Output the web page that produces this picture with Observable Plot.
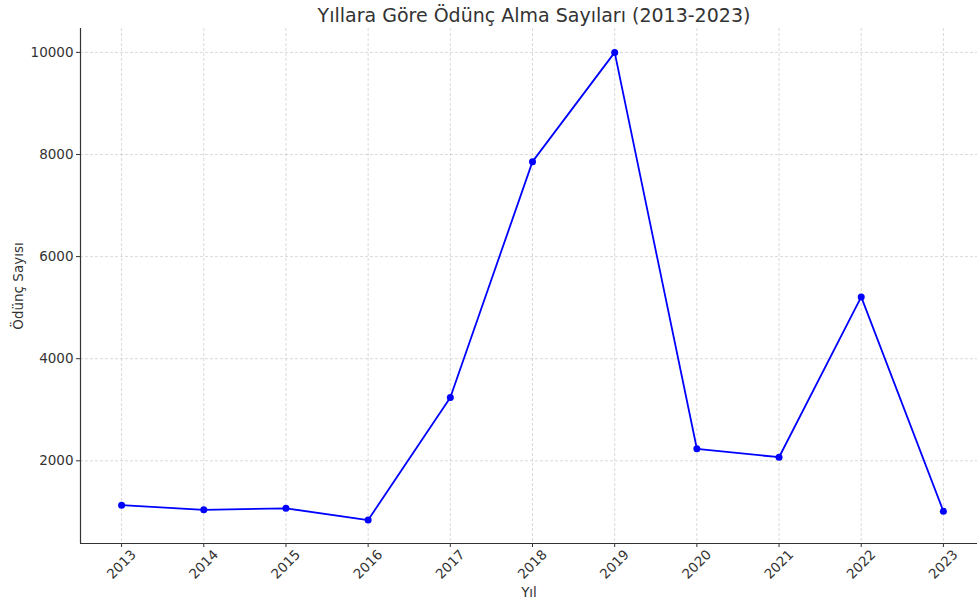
<!DOCTYPE html>
<html>
<head>
<meta charset="utf-8">
<script src="https://cdn.jsdelivr.net/npm/d3@7"></script>
<script src="https://cdn.jsdelivr.net/npm/@observablehq/plot@0.6"></script>
<style>
  body { margin: 0; background: #fff; }
  svg { font-family: "DejaVu Sans", sans-serif; }
</style>
</head>
<body>
<div id="chart"></div>
<script>
const years = [2013, 2014, 2015, 2016, 2017, 2018, 2019, 2020, 2021, 2022, 2023];
const counts = [1130, 1040, 1070, 840, 3240, 7860, 10000, 2235, 2070, 5210, 1010];
const yTicks = [2000, 4000, 6000, 8000, 10000];
const title = "Yıllara Göre Ödünç Alma Sayıları (2013-2023)";
const xLabel = "Yıl";
const yLabel = "Ödünç Sayısı";

const data = years.map((y, i) => ({year: y, count: counts[i]}));

const chart = Plot.plot({
  width: 977,
  height: 606,
  marginLeft: 80,
  marginRight: 0,
  marginTop: 28,
  marginBottom: 63,
  style: {fontFamily: "DejaVu Sans, sans-serif", fontSize: "13px", color: "#333", background: "#fff"},
  x: {type: "linear", domain: [2012.5, 2023.5], range: [80, 984]},
  y: {domain: [380, 10468]},
  marks: [
    Plot.gridX(years, {stroke: "#b0b0b0", strokeOpacity: 0.6, strokeWidth: 0.8, strokeDasharray: "3,2"}),
    Plot.gridY(yTicks, {stroke: "#b0b0b0", strokeOpacity: 0.6, strokeWidth: 0.8, strokeDasharray: "3,2"}),
    Plot.axisY(yTicks, {tickSize: 4, tickPadding: 3, tickFormat: d => String(d), label: null, fontSize: 13.5, color: "#333", stroke: "#333"}),
    Plot.axisX(years, {tickSize: 4, tickFormat: () => "", label: null, stroke: "#333"}),
    Plot.text(years, {x: d => d, text: d => String(d), frameAnchor: "bottom", dy: 21, rotate: -45, textAnchor: "middle", lineAnchor: "middle", fontSize: 13.5, fill: "#333"}),
    Plot.ruleX([2012.5], {stroke: "#333", strokeWidth: 1.2}),
    Plot.ruleY([380], {stroke: "#333", strokeWidth: 1.2}),
    Plot.line(data, {x: "year", y: "count", stroke: "#0000ff", strokeWidth: 1.8}),
    Plot.dot(data, {x: "year", y: "count", r: 3.5, fill: "#0000ff", stroke: "none"}),
    Plot.text([title], {text: d => d, frameAnchor: "top", dx: 5, dy: -13, textAnchor: "middle", lineAnchor: "middle", fontSize: 19, fill: "#333"}),
    Plot.text([xLabel], {text: d => d, frameAnchor: "bottom", dy: 49, textAnchor: "middle", lineAnchor: "middle", fontSize: 13.5, fill: "#333"}),
    Plot.text([yLabel], {text: d => d, frameAnchor: "left", dx: -62, rotate: -90, textAnchor: "middle", lineAnchor: "middle", fontSize: 13.5, fill: "#333"})
  ]
});
document.getElementById("chart").appendChild(chart);
</script>
</body>
</html>
